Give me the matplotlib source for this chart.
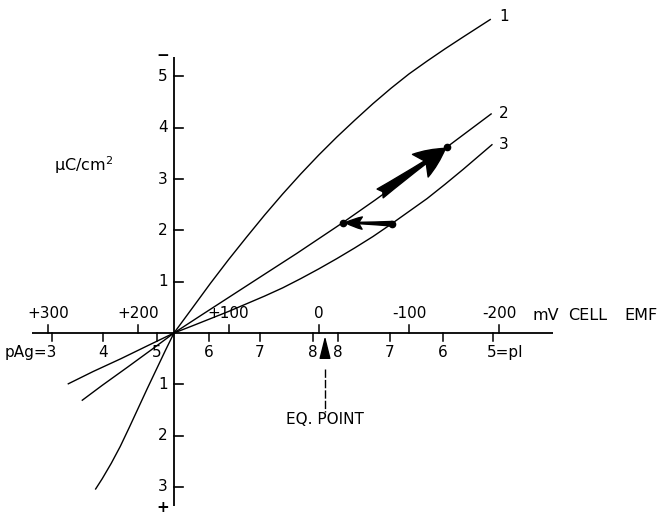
import matplotlib
matplotlib.use("Agg")
import matplotlib.pyplot as plt

plt.rcParams['font.family'] = ['DejaVu Sans']

# ---- data (x in mV cell EMF, y in uC/cm^2; negative y = positive charge) ----
curve1_mv = [247.3, 240.0, 230.0, 220.0, 210.0, 200.0, 190.0, 180.0, 170.0, 160.5,
             140.0, 120.0, 100.0, 80.0, 60.0, 40.0, 20.0, 0.0, -20.0, -40.0, -60.0,
             -80.0, -100.0, -120.0, -140.0, -160.0, -175.0, -190.0]
curve1_q  = [-3.04, -2.84, -2.54, -2.21, -1.84, -1.46, -1.08, -0.71, -0.34, 0.0,
             0.49, 0.97, 1.43, 1.87, 2.30, 2.71, 3.10, 3.47, 3.82, 4.15, 4.47,
             4.77, 5.05, 5.30, 5.54, 5.77, 5.94, 6.11]

curve2_mv = [262.1, 240.0, 211.5, 185.0, 160.5, 130.0, 98.4, 61.5, 24.5, -26.5, -62.3, -100.0, -142.4, -191.0]
curve2_q  = [-1.31, -1.02, -0.66, -0.32, 0.0, 0.35, 0.71, 1.13, 1.55, 2.15, 2.59, 3.07, 3.63, 4.27]

curve3_mv = [277.6, 250.0, 219.2, 190.0, 160.5, 140.0, 120.0, 100.0, 80.0, 60.0, 40.0, 20.0, 0.0,
             -20.0, -40.0, -60.0, -80.0, -100.0, -120.0, -140.0, -160.0, -191.9]
curve3_q  = [-0.99, -0.75, -0.50, -0.25, 0.0, 0.14, 0.28, 0.42, 0.57, 0.72, 0.88, 1.06, 1.25,
             1.45, 1.66, 1.88, 2.12, 2.37, 2.62, 2.90, 3.19, 3.67]

curve_labels = ["1", "2", "3"]
curve_label_q = [6.16, 4.27, 3.67]

dots_mv = [-26.5, -142.4, -81.1]
dots_q = [2.15, 3.63, 2.13]

mv_ticks = [300, 200, 100, 0, -100, -200]
mv_labels = ["+300", "+200", "+100", "0", "-100", "-200"]

pag_tick_mv = [295.7, 239.2, 179.3, 121.7, 65.2, 6.4]
pag_labels = ["pAg=3", "4", "5", "6", "7", "8"]
pi_tick_mv = [-21.3, -78.9, -137.7, -193.1]
pi_labels = ["8", "7", "6", "5=pI"]

q_ticks = [5, 4, 3, 2, 1, -1, -2, -3]

origin_mv = 160.5
eq_mv = -6.9

# ---- figure ----
fig = plt.figure(figsize=(6.65, 5.14), dpi=100)
ax = fig.add_axes([0, 0, 1, 1])
ax.set_xlim(353.3, -383.7)
ax.set_ylim(-3.528, 6.491)
ax.axis('off')

px = 1 / 0.9023   # mV per pixel
py = 1 / 51.3     # uC/cm2 per pixel
fs = 11

def xpix(p):
    return (318.8 - p) * px

# axes lines
ax.plot([317.9, -259.6], [0, 0], color='black', lw=1.3, solid_capstyle='butt')
ax.plot([origin_mv, origin_mv], [-3.38, 5.38], color='black', lw=1.3, solid_capstyle='butt')

# y ticks and labels
for q in q_ticks:
    ax.plot([origin_mv, origin_mv - 9 * px], [q, q], color='black', lw=1.2)
    ax.text(origin_mv + 11 * px, q, str(abs(q)), ha='center', va='center', fontsize=fs)
ax.text(origin_mv + 11 * px, 5.40, "\u2212", ha='center', va='center', fontsize=fs, fontweight='bold')
ax.text(origin_mv + 11 * px, -3.41, "+", ha='center', va='center', fontsize=fs, fontweight='bold')

# mV ticks (upward) and labels
for m, lab in zip(mv_ticks, mv_labels):
    ax.plot([m, m], [0, 8 * py], color='black', lw=1.1)
    ax.text(m, 20 * py, lab, ha='center', va='center', fontsize=fs)
for word, p in [("mV", 533), ("CELL", 568), ("EMF", 624)]:
    ax.text(xpix(p), 18 * py, word, ha='left', va='center', fontsize=fs + 0.5)

# pAg / pI ticks (downward) and labels
for m, lab in zip(pag_tick_mv, pag_labels):
    ax.plot([m, m], [0, -8 * py], color='black', lw=1.1)
    if lab.startswith("pAg"):
        ax.text(m - 5 * px, -19 * py, lab, ha='right', va='center', fontsize=fs)
    else:
        ax.text(m, -19 * py, lab, ha='center', va='center', fontsize=fs)
for m, lab in zip(pi_tick_mv, pi_labels):
    ax.plot([m, m], [0, -8 * py], color='black', lw=1.1)
    if lab.endswith("pI"):
        ax.text(m + 6 * px, -19 * py, lab, ha='left', va='center', fontsize=fs)
    else:
        ax.text(m, -19 * py, lab, ha='center', va='center', fontsize=fs)

# curves
for xs, ys in [(curve1_mv, curve1_q), (curve2_mv, curve2_q), (curve3_mv, curve3_q)]:
    ax.plot(xs, ys, color='black', lw=1.0, solid_joinstyle='round')
for lab, q in zip(curve_labels, curve_label_q):
    ax.text(-199.8, q, lab, ha='left', va='center', fontsize=fs)

# dots
ax.plot(dots_mv, dots_q, 'o', color='black', markersize=4.5)

# arrows between curves
ax.annotate("", xy=(dots_mv[1] + 2, dots_q[1] - 0.03), xytext=(-68, 2.72),
            arrowprops=dict(arrowstyle="fancy,head_length=1.0,head_width=0.9,tail_width=0.35",
                            fc='black', ec='black', mutation_scale=22, shrinkA=0, shrinkB=0))
ax.annotate("", xy=(dots_mv[0] - 3, dots_q[0]), xytext=(dots_mv[2], dots_q[2]),
            arrowprops=dict(arrowstyle="fancy,head_length=1.1,head_width=0.8,tail_width=0.3",
                            fc='black', ec='black', mutation_scale=11, shrinkA=0, shrinkB=0))

# equivalence point marker
ax.annotate("", xy=(eq_mv, -3 * py), xytext=(eq_mv, -24 * py),
            arrowprops=dict(arrowstyle="-|>,head_length=1.4,head_width=0.35",
                            fc='black', ec='black', lw=1.0, mutation_scale=10, shrinkA=0, shrinkB=0))
ax.plot([eq_mv, eq_mv], [-36 * py, -79 * py], color='black', lw=1.0, ls=(0, (6, 1.5)))
ax.text(xpix(325), -86 * py, "EQ. POINT", ha='center', va='center', fontsize=fs)

# y-axis unit label
ax.text(xpix(84), (333 - 165) * py, "\u03bcC/cm$^2$", ha='center', va='center', fontsize=fs + 0.5)

fig.savefig("out.png", dpi=100)
